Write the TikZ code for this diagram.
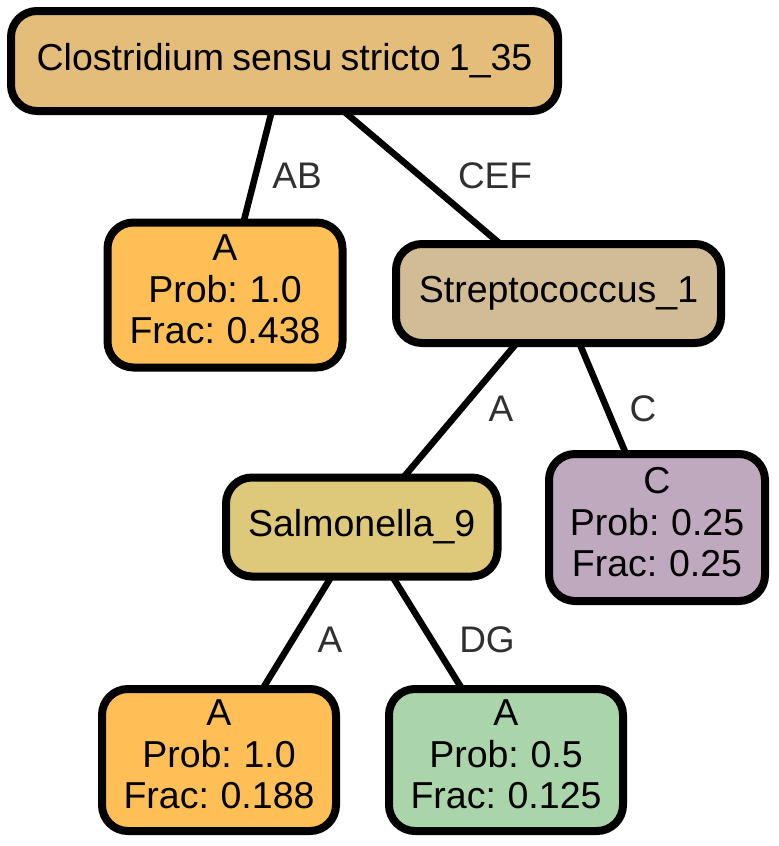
\documentclass[tikz,border=0pt]{standalone}
\usepackage{fontspec}
\setmainfont{Liberation Sans}
\definecolor{roottan}{HTML}{E4BD7B}
\definecolor{leaforange}{HTML}{FDBF56}
\definecolor{streptan}{HTML}{D1BC96}
\definecolor{salmyellow}{HTML}{DDC979}
\definecolor{cpurple}{HTML}{BFA9BF}
\definecolor{dggreen}{HTML}{AAD4A9}
\definecolor{labelgray}{HTML}{303030}
\newcommand{\myboxfont}{\fontsize{37.5}{41.5}\selectfont\spaceskip=0.22em plus 0.05em minus 0.05em\relax}
\begin{document}
\begin{tikzpicture}[x=1pt,y=-1pt]
\tikzset{
  box/.style={draw=black, line width=8pt, rounded corners=26pt, align=center,
    font=\myboxfont, inner sep=0pt, outer sep=0pt, text=black},
  single/.style={box, minimum height=99pt},
  triple/.style={box, minimum height=145pt, text depth=11pt},
  conn/.style={line width=6.5pt, draw=black},
  elabel/.style={font=\fontsize{37}{41}\selectfont, text=labelgray, inner sep=0pt}
}
\useasboundingbox (0,0) rectangle (779,846);
% nodes
\node[single, fill=roottan, minimum width=547pt, minimum height=100pt] (root) at (284.5,61) {Clostridium sensu stricto 1\_35};
\node[triple, fill=leaforange, minimum width=235pt] (a1) at (225,295) {A\\Prob: 1.0\\Frac: 0.438};
\node[single, fill=streptan, minimum width=325pt] (strep) at (558.5,293.5) {Streptococcus\_1};
\node[single, fill=salmyellow, minimum width=271.5pt] (salm) at (361.75,527) {Salmonella\_9};
\node[triple, fill=cpurple, minimum width=216pt, minimum height=147pt] (cleaf) at (657,527.5) {C\\Prob: 0.25\\Frac: 0.25};
\node[triple, fill=leaforange, minimum width=234pt, minimum height=142pt] (a2) at (219,760) {A\\Prob: 1.0\\Frac: 0.188};
\node[triple, fill=dggreen, minimum width=234pt, minimum height=142pt] (a3) at (506,760) {A\\Prob: 0.5\\Frac: 0.125};
% connectors
\draw[conn] (root) -- (a1);
\draw[conn] (root) -- (strep);
\draw[conn] (strep) -- (salm);
\draw[conn] (strep) -- (cleaf);
\draw[conn] (salm) -- (a2);
\draw[conn] (salm) -- (a3);
% edge labels
\node[elabel] (lab1) at (297,176) {AB};
\node[elabel] (lab2) at (495,176) {CEF};
\node[elabel] (lab3) at (501,409) {A};
\node[elabel] (lab4) at (643,409) {C};
\node[elabel] (lab5) at (330,640) {A};
\node[elabel] (lab6) at (487,640) {DG};
\end{tikzpicture}
\end{document}
